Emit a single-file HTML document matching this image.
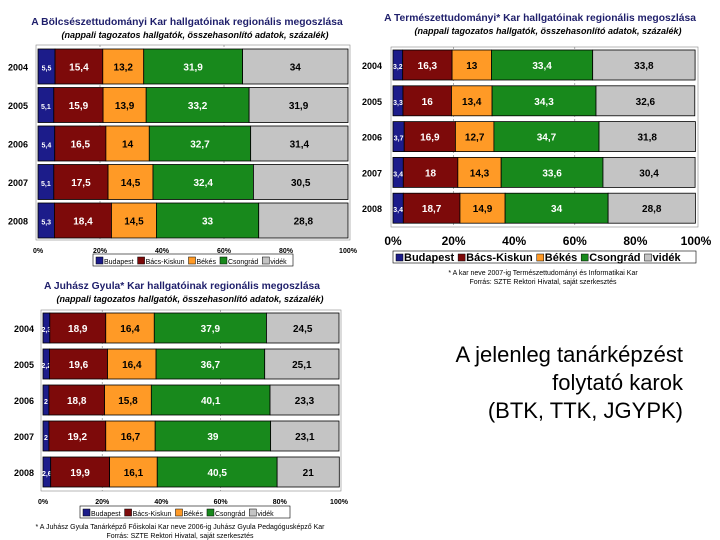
<!DOCTYPE html>
<html><head><meta charset="utf-8"><style>
body{margin:0;width:720px;height:540px;background:#fff;overflow:hidden;font-family:"Liberation Sans",sans-serif}
svg{position:absolute;left:0;top:0}
.side{position:absolute;right:37px;top:341px;text-align:right;font-size:22px;line-height:28px;color:#000}
</style></head><body>
<svg id="s" width="720" height="540"></svg>
<div class="side">A jelenleg tanárképzést<br>folytató karok<br>(BTK, TTK, JGYPK)</div>
<script>
const years = ["2004","2005","2006","2007","2008"];
const seriesNames = ["Budapest","Bács-Kiskun","Békés","Csongrád","vidék"];
const tickLabels = ["0%","20%","40%","60%","80%","100%"];
const btkBudapest = [5.5,5.1,5.4,5.1,5.3];
const btkBacs = [15.4,15.9,16.5,17.5,18.4];
const btkBekes = [13.2,13.9,14,14.5,14.5];
const btkCsongrad = [31.9,33.2,32.7,32.4,33];
const btkVidek = [34,31.9,31.4,30.5,28.8];
const ttkBudapest = [3.2,3.3,3.7,3.4,3.4];
const ttkBacs = [16.3,16,16.9,18,18.7];
const ttkBekes = [13,13.4,12.7,14.3,14.9];
const ttkCsongrad = [33.4,34.3,34.7,33.6,34];
const ttkVidek = [33.8,32.6,31.8,30.4,28.8];
const jgyBudapest = [2.3,2.2,2,2,2.6];
const jgyBacs = [18.9,19.6,18.8,19.2,19.9];
const jgyBekes = [16.4,16.4,15.8,16.7,16.1];
const jgyCsongrad = [37.9,36.7,40.1,39,40.5];
const jgyVidek = [24.5,25.1,23.3,23.1,21];

const colors=["#1c1c8a","#7d0a0a","#ff9a26","#18891c","#c4c4c4"];
const textCol=["#fff","#fff","#000","#fff","#000"];
const NS="http://www.w3.org/2000/svg";
const svg=document.getElementById('s');
function mk(tag,attrs,parent,txt){const e=document.createElementNS(NS,tag);for(const k in attrs)e.setAttribute(k,attrs[k]);if(txt!==undefined)e.textContent=txt;(parent||svg).appendChild(e);return e;}

function chart(cfg){
  const g=mk('g',{});
  
  
  const X=v=>cfg.x0+(cfg.x1-cfg.x0)*v/100;
  const t=mk('text',{x:cfg.cx,y:cfg.ty,'text-anchor':'middle','font-size':10.3,'font-weight':'bold',fill:'#1f1f6b'},g,cfg.title);
  
  
  const st=mk('text',{x:cfg.cx+8,y:cfg.ty+13,'text-anchor':'middle','font-size':9,'font-weight':'bold','font-style':'italic',fill:'#000'},g,"(nappali tagozatos hallgatók, összehasonlító adatok, százalék)");
  
  
  mk('rect',{x:cfg.x0-2,y:cfg.frameTop,width:cfg.x1-cfg.x0+4,height:cfg.frameBot-cfg.frameTop,fill:'none',stroke:'#888','stroke-width':0.6},g);
  [20,60].forEach(p=>mk('line',{x1:X(p),x2:X(p),y1:cfg.frameTop,y2:cfg.frameBot,stroke:'#777','stroke-dasharray':'2,2','stroke-width':0.6},g));
  const data=cfg.data;
  years.forEach((yr,i)=>{
    const y=cfg.by0+i*cfg.step;
    const yl=mk('text',{x:cfg.yx,y:y+cfg.bh/2+4,'text-anchor':'middle','font-size':9,'font-weight':'bold'},g,yr);
    
    
    let acc=0;
    data.forEach((arr,s)=>{
      const v=arr[i];
      const r=mk('rect',{x:X(acc),y:y,width:X(acc+v)-X(acc),height:cfg.bh,fill:colors[s],stroke:'#000','stroke-width':0.8},g);
      
      
      const lab=mk('text',{x:X(acc+v/2),y:y+cfg.bh/2+4,'text-anchor':'middle','font-size':s==0?7:10,'font-weight':'bold',fill:textCol[s]},g,String(v).replace('.',','));
      
      
      acc+=v;
    });
  });
  tickLabels.forEach((tl,k)=>{
    const tx=mk('text',{x:X(k*20),y:cfg.tickY,'text-anchor':'middle','font-size':cfg.tickFs,'font-weight':'bold',fill:'#000'},g,tl);
    
    
  });
  const lg=mk('g',{},g);
  
  
  mk('rect',{x:cfg.lx,y:cfg.ly-7,width:cfg.lw,height:12,fill:'#fff',stroke:'#000','stroke-width':0.6},lg);
  let lx=cfg.lx+3;
  seriesNames.forEach((n,s)=>{
    mk('rect',{x:lx,y:cfg.ly-4,width:7,height:7,fill:colors[s],stroke:'#000','stroke-width':0.5},lg);
    const t2=mk('text',{x:lx+8,y:cfg.ly+3,'font-size':cfg.lfs,'font-weight':cfg.lfs>9?'bold':'normal'},lg,n);
    
    
    lx+=8+t2.getComputedTextLength()+4;
  });
  (cfg.notes||[]).forEach((n,k)=>{
    const t3=mk('text',{x:cfg.noteX,y:cfg.noteY+k*9,'text-anchor':'middle','font-size':7},g,n);
    
    
  });
}
chart({name:'btk-chart',title:'A Bölcsészettudományi Kar hallgatóinak regionális megoszlása',cx:187,ty:25,
  x0:38,x1:348,frameTop:45,frameBot:240,by0:49,step:38.5,bh:35,yx:18,tickY:253,tickFs:7,
  lx:93,ly:261,lw:200,lfs:7,data:[btkBudapest,btkBacs,btkBekes,btkCsongrad,btkVidek]});
chart({name:'ttk-chart',title:'A Természettudományi* Kar hallgatóinak regionális megoszlása',cx:540,ty:21,
  x0:393,x1:696,frameTop:47,frameBot:227,by0:50,step:35.8,bh:30,yx:372,tickY:245,tickFs:12,
  lx:393,ly:258,lw:303,lfs:11,data:[ttkBudapest,ttkBacs,ttkBekes,ttkCsongrad,ttkVidek],
  notes:['* A kar neve 2007-ig Természettudományi és Informatikai Kar','Forrás: SZTE Rektori Hivatal, saját szerkesztés'],noteX:543,noteY:275});
chart({name:'jgypk-chart',title:'A Juhász Gyula* Kar hallgatóinak regionális megoszlása',cx:182,ty:289,
  x0:43,x1:339,frameTop:310,frameBot:491,by0:313,step:36,bh:30,yx:24,tickY:504,tickFs:7,
  lx:80,ly:513,lw:210,lfs:7,data:[jgyBudapest,jgyBacs,jgyBekes,jgyCsongrad,jgyVidek],
  notes:['* A Juhász Gyula Tanárképző Főiskolai Kar neve 2006-ig Juhász Gyula Pedagógusképző Kar','Forrás: SZTE Rektori Hivatal, saját szerkesztés'],noteX:180,noteY:529});
</script>
</body></html>
